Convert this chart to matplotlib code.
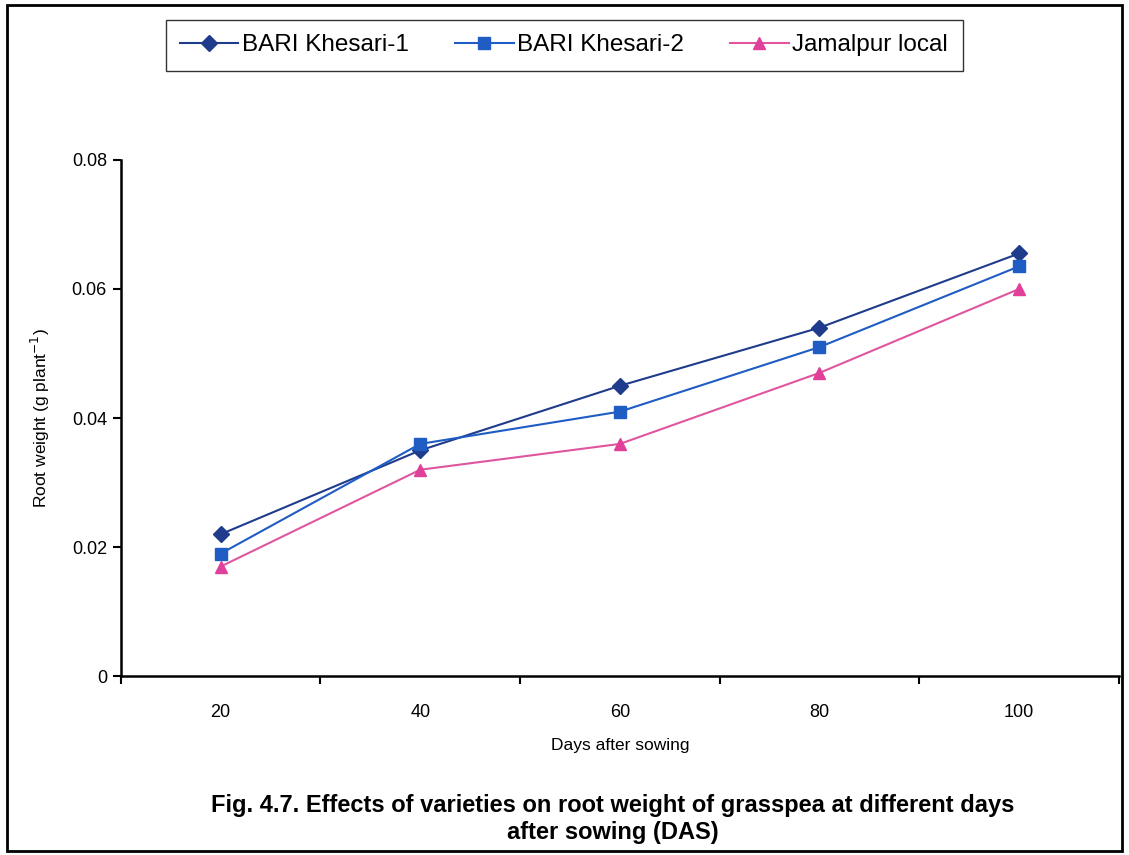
import matplotlib.pyplot as plt
import matplotlib.patches as mpatches
import numpy as np

plt.rcParams['font.family'] = ['Liberation Sans', 'DejaVu Sans']

days = ['20', '40', '60', '80', '100']
khesari1 = [0.022, 0.035, 0.045, 0.054, 0.0655]
khesari2 = [0.019, 0.036, 0.041, 0.051, 0.0635]
jamalpur = [0.017, 0.032, 0.036, 0.047, 0.060]

fig = plt.figure(figsize=(11.29, 8.55), dpi=100)
ax = fig.add_axes([0.107, 0.209, 0.884, 0.604])

x = np.arange(len(days))
ax.plot(x, khesari1, color='#1f3b8c', marker='D', markersize=8, lw=1.5, label='BARI Khesari-1')
ax.plot(x, khesari2, color='#1f5cc4', marker='s', markersize=9, lw=1.5, label='BARI Khesari-2')
ax.plot(x, jamalpur, color='#e0559f', marker='^', markersize=9, lw=1.5,
        markerfacecolor='#e0409a', markeredgecolor='#e0409a', label='Jamalpur local')

ax.set_xlim(-0.5, len(days) - 0.5)
ax.set_ylim(0, 0.08)
ax.set_yticks([0, 0.02, 0.04, 0.06, 0.08])
ax.set_yticklabels(['0', '0.02', '0.04', '0.06', '0.08'])
ax.set_xticks(np.arange(-0.5, len(days), 1.0))
ax.set_xticklabels([])
ax.set_xticks(x, minor=True)
ax.set_xticklabels(days, minor=True)
ax.tick_params(axis='x', which='minor', length=0, pad=20, labelsize=13)
ax.tick_params(axis='x', which='major', length=6, width=1.5, direction='out')
ax.tick_params(axis='y', length=6, width=1.5, direction='out', labelsize=13, pad=4)

for s in ['top', 'right']:
    ax.spines[s].set_visible(False)
for s in ['left', 'bottom']:
    ax.spines[s].set_linewidth(1.8)

ax.set_xlabel('Days after sowing', fontsize=12.5, labelpad=12)
ax.set_ylabel('Root weight (g plant$^{-1}$)', fontsize=12.5, labelpad=14)

leg = fig.legend(loc='center', bbox_to_anchor=(0.4996, 0.947), ncol=3, fontsize=17.5,
                 frameon=True, fancybox=False, edgecolor='black', handlelength=2.4,
                 columnspacing=1.9, handletextpad=0.15, borderpad=0.6, borderaxespad=0)
leg.get_frame().set_linewidth(1.0)

fig.text(0.543, 0.058, 'Fig. 4.7. Effects of varieties on root weight of grasspea at different days',
         ha='center', va='center', fontsize=17, fontweight='bold')
fig.text(0.543, 0.026, 'after sowing (DAS)', ha='center', va='center', fontsize=17, fontweight='bold')

border = mpatches.Rectangle((0.006, 0.005), 0.988, 0.989, transform=fig.transFigure,
                            fill=False, edgecolor='black', linewidth=2)
fig.patches.append(border)

fig.savefig('out.png', dpi=100)
